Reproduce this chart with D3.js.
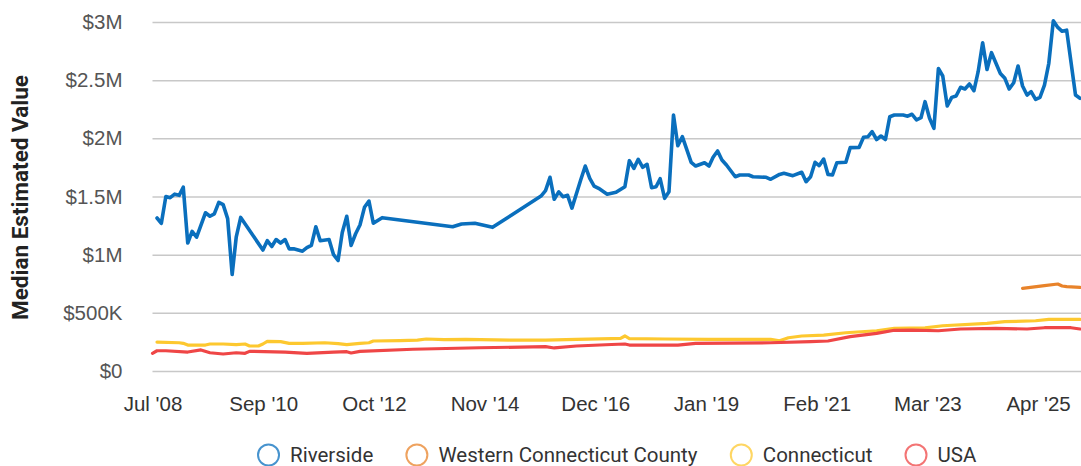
<!DOCTYPE html>
<html>
<head>
<meta charset="utf-8" />
<title>Median Estimated Value</title>
<script src="https://d3js.org/d3.v7.min.js"></script>
<style>
  body { margin: 0; background: #fff; }
  svg { font-family: Roboto, sans-serif; display: block; }
  .y.axis text { font-size: 20.5px; fill: #555; }
  .x.axis text { font-size: 20.5px; fill: #333; }
  .axis .domain { display: none; }
  .y.axis line { stroke: #c8c8c8; stroke-width: 1.5px; }
  .series { fill: none; stroke-linejoin: round; stroke-linecap: round; }
  .legend text { font-size: 20.5px; fill: #333; }
</style>
</head>
<body>
<div id="chart"></div>
<script>
// monthly median values
var riverside = [
  ["2008-08",1315000],["2008-09",1270000],["2008-10",1500000],["2008-11",1490000],["2008-12",1520000],
  ["2009-01",1510000],["2009-02",1580000],["2009-03",1100000],["2009-04",1200000],["2009-05",1150000],
  ["2009-07",1360000],["2009-08",1330000],["2009-09",1350000],["2009-10",1450000],["2009-11",1430000],
  ["2009-12",1310000],["2010-01",830000],["2010-02",1150000],["2010-03",1320000],["2010-08",1040000],
  ["2010-09",1120000],["2010-10",1070000],["2010-11",1130000],["2010-12",1100000],["2011-01",1130000],
  ["2011-02",1050000],["2011-03",1050000],["2011-05",1030000],["2011-06",1060000],["2011-07",1080000],
  ["2011-08",1240000],["2011-09",1120000],["2011-11",1130000],["2011-12",1000000],["2012-01",950000],
  ["2012-02",1190000],["2012-03",1330000],["2012-04",1080000],["2012-05",1180000],["2012-06",1255000],
  ["2012-07",1407000],["2012-08",1461000],["2012-09",1270000],["2012-11",1318000],["2014-03",1240000],
  ["2014-05",1264000],["2014-08",1270000],["2014-12",1235000],["2015-11",1504000],["2015-12",1550000],
  ["2016-01",1665000],["2016-02",1476000],["2016-03",1540000],["2016-04",1498000],["2016-05",1510000],
  ["2016-06",1400000],["2016-08",1648000],["2016-09",1762000],["2016-10",1656000],["2016-11",1590000],
  ["2016-12",1570000],["2017-02",1520000],["2017-04",1536000],["2017-06",1584000],["2017-07",1808000],
  ["2017-08",1742000],["2017-09",1820000],["2017-10",1751000],["2017-11",1777000],["2017-12",1576000],
  ["2018-01",1584000],["2018-02",1653000],["2018-03",1484000],["2018-04",1541000],["2018-05",2200000],
  ["2018-06",1937000],["2018-07",2014000],["2018-09",1794000],["2018-10",1762000],["2018-12",1790000],
  ["2019-01",1762000],["2019-02",1837000],["2019-03",1891000],["2019-04",1814000],["2019-05",1771000],
  ["2019-07",1670000],["2019-08",1685000],["2019-10",1685000],["2019-11",1670000],["2020-02",1665000],
  ["2020-03",1648000],["2020-05",1690000],["2020-06",1700000],["2020-08",1679000],["2020-10",1708000],
  ["2020-11",1627000],["2020-12",1670000],["2021-01",1794000],["2021-02",1765000],["2021-03",1822000],
  ["2021-04",1690000],["2021-05",1685000],["2021-06",1790000],["2021-08",1794000],["2021-09",1920000],
  ["2021-11",1922000],["2021-12",2009000],["2022-01",2014000],["2022-02",2057000],["2022-03",1990000],
  ["2022-04",2020000],["2022-05",1990000],["2022-06",2186000],["2022-07",2200000],["2022-09",2200000],
  ["2022-10",2190000],["2022-11",2207000],["2022-12",2158000],["2023-01",2177000],["2023-02",2315000],
  ["2023-03",2172000],["2023-04",2086000],["2023-05",2600000],["2023-06",2536000],["2023-07",2278000],
  ["2023-08",2352000],["2023-09",2364000],["2023-10",2439000],["2023-11",2424000],["2023-12",2467000],
  ["2024-01",2410000],["2024-02",2573000],["2024-03",2822000],["2024-04",2592000],["2024-05",2736000],
  ["2024-07",2558000],["2024-08",2516000],["2024-09",2424000],["2024-10",2478000],["2024-11",2622000],
  ["2024-12",2450000],["2025-01",2372000],["2025-02",2401000],["2025-03",2335000],["2025-04",2353000],
  ["2025-05",2458000],["2025-06",2645000],["2025-07",3010000],["2025-08",2953000],["2025-09",2920000],
  ["2025-10",2930000],["2025-12",2372000],["2026-01",2344000]
];

var westernCounty = [
  ["2024-12",711000],["2025-05",734000],["2025-08",748000],["2025-09",731000],["2025-10",725000],["2026-01",719000]
];

var connecticut = [
  ["2008-08",249000],["2009-01",243000],["2009-02",238000],["2009-03",223000],["2009-07",223000],
  ["2009-08",232000],["2009-11",232000],["2010-02",226000],["2010-04",232000],["2010-05",215000],
  ["2010-07",215000],["2010-08",232000],["2010-09",255000],["2010-12",252000],["2011-02",238000],
  ["2011-05",238000],["2011-10",243000],["2012-01",235000],["2012-03",226000],["2012-06",238000],
  ["2012-08",243000],["2012-09",258000],["2013-03",261000],["2013-07",266000],["2013-09",275000],
  ["2014-01",269000],["2014-06",272000],["2015-04",266000],["2015-12",266000],["2016-07",272000],
  ["2017-03",278000],["2017-05",281000],["2017-06",301000],["2017-07",279000],["2018-03",275000],
  ["2019-01",272000],["2020-03",272000],["2020-05",260000],["2020-07",286000],["2020-10",301000],
  ["2021-03",309000],["2021-08",329000],["2022-03",346000],["2022-07",367000],["2023-02",370000],
  ["2023-06",389000],["2024-04",410000],["2024-08",424000],["2025-03",432000],["2025-06",444000],
  ["2026-01",444000]
];

var usa = [
  ["2008-07",152000],["2008-08",174000],["2008-10",174000],["2009-03",163000],["2009-06",181000],
  ["2009-08",157000],["2009-11",146000],["2010-02",157000],["2010-04",152000],["2010-05",169000],
  ["2011-01",163000],["2011-06",152000],["2011-12",163000],["2012-03",166000],["2012-04",155000],
  ["2012-06",169000],["2013-06",187000],["2014-09",200000],["2015-12",209000],["2016-02",198000],
  ["2016-07",215000],["2017-03",228000],["2017-06",232000],["2017-07",223000],["2018-06",223000],
  ["2018-10",238000],["2020-03",243000],["2020-12",252000],["2021-04",258000],["2021-09",295000],
  ["2022-03",324000],["2022-07",350000],["2022-11",352000],["2023-05",346000],["2023-10",361000],
  ["2024-06",367000],["2025-01",361000],["2025-05",372000],["2025-11",372000],["2026-01",361000]
];

var seriesNames = ["Riverside", "Western Connecticut County", "Connecticut", "USA"];
var seriesColors = ["#0a6fbd", "#e8832a", "#fdc82f", "#ef4646"];
var seriesWidths = [3.6, 3.2, 3.2, 3.2];
var yTicks = [0, 500000, 1000000, 1500000, 2000000, 2500000, 3000000];
var tickCount = 9, tickStepDays = 763;

// each value sits on the last day of its month
function parseMonth(s) {
  var p = s.split("-");
  return new Date(+p[0], +p[1], 0);
}
function toPoints(arr) {
  return arr.map(function(d) { return {date: parseMonth(d[0]), value: d[1]}; });
}
var allSeries = [riverside, westernCounty, connecticut, usa].map(toPoints);

var W = 1081, H = 466;
var margin = {top: 22, left: 152.5},
    width = 1080 - margin.left,
    height = 371 - margin.top;

var start = parseMonth("2008-07"), end = parseMonth("2026-01");
var x = d3.scaleTime().domain([start, end]).range([0, width]);
var y = d3.scaleLinear().domain([0, 3000000]).range([height, 0]);

var xTicks = d3.range(tickCount).map(function(i) { return d3.timeDay.offset(start, i * tickStepDays); });

function money(v) {
  if (v >= 1e6) return "$" + (v / 1e6) + "M";
  if (v >= 1e3) return "$" + (v / 1e3) + "K";
  return "$" + v;
}

var svg = d3.select("#chart").append("svg")
    .attr("width", W)
    .attr("height", H);

var g = svg.append("g")
    .attr("transform", "translate(" + margin.left + "," + margin.top + ")");

g.append("g")
    .attr("class", "y axis")
    .call(d3.axisLeft(y).tickValues(yTicks).tickFormat(money).tickSize(-(W - margin.left)).tickPadding(30));

g.append("g")
    .attr("class", "x axis")
    .attr("transform", "translate(0," + height + ")")
    .call(d3.axisBottom(x).tickValues(xTicks).tickFormat(d3.timeFormat("%b '%y")).tickSize(0).tickPadding(25));

var line = d3.line()
    .x(function(d) { return x(d.date); })
    .y(function(d) { return y(d.value); });

g.selectAll(".series")
    .data(allSeries)
    .enter().append("path")
    .attr("class", "series")
    .attr("d", line)
    .style("stroke", function(d, i) { return seriesColors[i]; })
    .style("stroke-width", function(d, i) { return seriesWidths[i]; });

// y title
svg.append("text")
    .attr("transform", "translate(28," + (margin.top + height / 2 + 1) + ") rotate(-90)")
    .style("text-anchor", "middle")
    .style("font-size", "22.5px")
    .style("font-weight", "bold")
    .style("fill", "#222")
    .text("Median Estimated Value");

// legend, centred under the plot
var legend = svg.append("g").attr("class", "legend");
var items = legend.selectAll(".item")
    .data(seriesNames)
    .enter().append("g")
    .attr("class", "item");

items.append("circle")
    .attr("cx", 11.5)
    .attr("cy", 0)
    .attr("r", 10.5)
    .style("fill", "none")
    .style("stroke-width", 2)
    .style("stroke-opacity", 0.75)
    .style("stroke", function(d, i) { return seriesColors[i]; });

items.append("text")
    .attr("x", 33)
    .attr("y", 7.3)
    .text(function(d) { return d; });

var pos = 0;
items.each(function() {
  var w = this.getBBox().width;
  d3.select(this).attr("transform", "translate(" + pos + ",0)");
  pos += w + 33;
});
var total = pos - 33;
legend.attr("transform", "translate(" + (616.5 - total / 2) + ",455)");
</script>
</body>
</html>
